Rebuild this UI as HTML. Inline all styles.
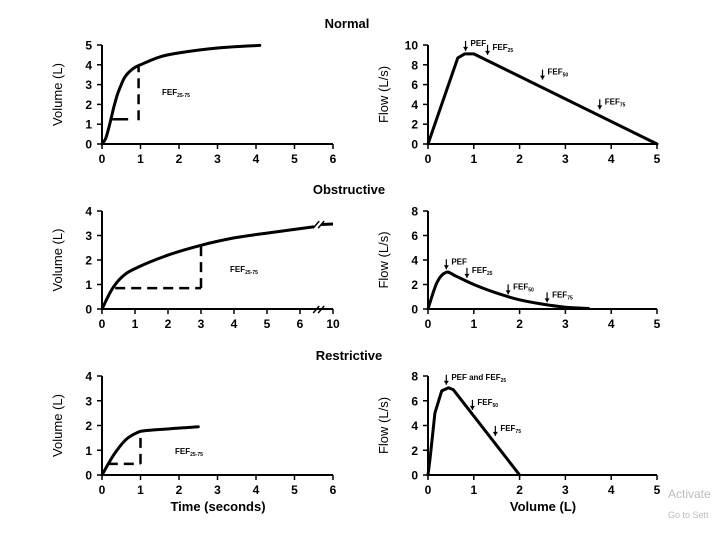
<!DOCTYPE html>
<html><head><meta charset="utf-8"><style>
body{margin:0;background:#fff}
svg{display:block;font-family:"Liberation Sans",Arial,sans-serif}
</style></head><body>
<svg id="fig" width="720" height="540" viewBox="0 0 720 540">
<text x="347" y="28" font-size="13" font-weight="bold" text-anchor="middle">Normal</text>
<text x="349" y="194" font-size="13" font-weight="bold" text-anchor="middle">Obstructive</text>
<text x="349" y="360" font-size="13" font-weight="bold" text-anchor="middle">Restrictive</text>
<text x="218" y="511" font-size="13" font-weight="bold" text-anchor="middle">Time (seconds)</text>
<text x="543" y="511" font-size="13" font-weight="bold" text-anchor="middle">Volume (L)</text>
<text x="668" y="498" font-size="12" fill="#bbb">Activate</text>
<text x="668" y="518" font-size="9" fill="#bbb">Go to Sett</text>
</svg>
<script>
const NS="http://www.w3.org/2000/svg";
const svg=document.getElementById('fig');
// data
const normVolT=[0,0.1,0.2,0.3,0.4,0.5,0.6,0.8,1.0,1.5,2,3,4.1];
const normVolV=[0,0.3,1.0,1.8,2.5,3.0,3.4,3.8,4.0,4.4,4.6,4.85,4.98];
const normFlowV=[0,0.65,0.8,1.0,5];
const normFlowF=[0,8.7,9.1,9.1,0];
const obsVolT=[0,0.3,0.6,1,2,3,4,5,6.4];
const obsVolV=[0,0.8,1.3,1.65,2.2,2.6,2.9,3.1,3.35];
const obsFlowV=[0,0.2,0.4,0.6,1,1.5,2,2.5,3,3.5];
const obsFlowF=[0,2.2,3.0,2.7,2.0,1.3,0.75,0.4,0.15,0.05];
const resVolT=[0,0.3,0.6,0.9,1.2,2.5];
const resVolV=[0,0.8,1.4,1.7,1.8,1.95];
const resFlowV=[0,0.05,0.15,0.3,0.45,0.55,2];
const resFlowF=[0,1.5,5,6.8,7.05,6.9,0];
const timeTicks=["0","1","2","3","4","5","6"];
const obsTimeTicks=["0","1","2","3","4","5","6","10"];
const volTicks5=["0","1","2","3","4","5"];
const volTicks4=["0","1","2","3","4"];
const flowTicks10=["0","2","4","6","8","10"];
const flowTicks8=["0","2","4","6","8"];
const volXTicks=["0","1","2","3","4","5"];

function mk(tag,at,name){const e=document.createElementNS(NS,tag);for(const k in at)e.setAttribute(k,at[k]);


svg.appendChild(e);return e;}
function txt(x,y,s,sz,name,anchor){const e=mk('text',{x:x,y:y,'font-size':sz,'font-weight':'bold','text-anchor':anchor||'start'},name);e.textContent=s;return e;}

function panel(o){
  const sx=v=>o.x0+(v-o.xmin)/(o.xmax-o.xmin)*(o.x1-o.x0);
  const sy=v=>o.y0-(v-o.ymin)/(o.ymax-o.ymin)*(o.y0-o.y1);
  mk('line',{x1:o.x0,y1:o.y0,x2:o.x1,y2:o.y0,stroke:'#000','stroke-width':2},o.id+'-x-axis');
  mk('line',{x1:o.x0,y1:o.y0,x2:o.x0,y2:o.y1,stroke:'#000','stroke-width':2},o.id+'-y-axis');
  const nx=o.xt.length;
  o.xt.forEach((t,i)=>{const x=o.x0+i*(o.x1-o.x0)/(nx-1);
    mk('line',{x1:x,y1:o.y0,x2:x,y2:o.y0+5,stroke:'#000','stroke-width':1.5},o.id+'-x-tick');
    txt(x,o.y0+19,t,12,o.id+'-x-tick-label','middle');});
  const ny=o.yt.length;
  o.yt.forEach((t,i)=>{const y=o.y0-i*(o.y0-o.y1)/(ny-1);
    mk('line',{x1:o.x0-5,y1:y,x2:o.x0,y2:y,stroke:'#000','stroke-width':1.5},o.id+'-y-tick');
    txt(o.x0-10,y+4.5,t,12,o.id+'-y-tick-label','end');});
  const yt=txt(0,0,o.ylab,13,o.id+'-y-axis-title','middle');
  yt.setAttribute('font-weight','normal');
  yt.setAttribute('transform','translate('+o.ylx+','+(o.y0+o.y1)/2+') rotate(-90)');
  return {sx,sy};
}
function curve(p,xs,ys,name,smooth){
  const P=xs.map((x,i)=>[p.sx(x),p.sy(ys[i])]);
  let d='M'+P[0][0].toFixed(1)+' '+P[0][1].toFixed(1);
  for(let i=0;i<P.length-1;i++){
    if(!smooth){d+='L'+P[i+1][0].toFixed(1)+' '+P[i+1][1].toFixed(1);continue;}
    const p0=P[Math.max(0,i-1)],p1=P[i],p2=P[i+1],p3=P[Math.min(P.length-1,i+2)];
    const c1=[p1[0]+(p2[0]-p0[0])/6,p1[1]+(p2[1]-p0[1])/6];
    const c2=[p2[0]-(p3[0]-p1[0])/6,p2[1]-(p3[1]-p1[1])/6];
    d+='C'+c1.map(v=>v.toFixed(1)).join(' ')+' '+c2.map(v=>v.toFixed(1)).join(' ')+' '+p2[0].toFixed(1)+' '+p2[1].toFixed(1);
  }
  return mk('path',{d:d,fill:'none',stroke:'#000','stroke-width':3,'stroke-linejoin':'round','stroke-linecap':'round'},name);
}
function dash(p,x1,y1,x2,y2,name){mk('line',{x1:p.sx(x1),y1:p.sy(y1),x2:p.sx(x2),y2:p.sy(y2),stroke:'#000','stroke-width':2.5,'stroke-dasharray':'10 6'},name);}
function fefLabel(x,y,main,sub,name){const e=txt(x,y,main,8,name);const s=document.createElementNS(NS,'tspan');s.setAttribute('font-size','5');s.setAttribute('dy','2');s.textContent=sub;e.appendChild(s);}
function arrow(p,v,f,gap,lab,sub,name){
  const x=p.sx(v),y=p.sy(f)-gap;
  mk('line',{x1:x,y1:y-10,x2:x,y2:y,stroke:'#000','stroke-width':1.2},name+'-arrow');
  mk('path',{d:`M${x-2.5} ${y-4}L${x} ${y}L${x+2.5} ${y-4}Z`,fill:'#000'},name+'-arrowhead');
  fefLabel(x+5,y-5,lab,sub,name+'-label');
}

// Normal volume-time
let p=panel({id:'normal-vt',x0:102,x1:333,xmin:0,xmax:6,y0:144,y1:45,ymin:0,ymax:5,xt:timeTicks,yt:volTicks5,ylab:'Volume (L)',ylx:62});
curve(p,normVolT,normVolV,'normal-volume-curve',true);
mk('line',{x1:p.sx(0.2),y1:p.sy(1.25),x2:p.sx(0.68),y2:p.sy(1.25),stroke:'#000','stroke-width':2.5},'normal-fef-horizontal');
dash(p,0.95,1.2,0.95,3.9,'normal-fef-vertical');
fefLabel(162,95,'FEF','25-75','normal-fef2575-label');

// Normal flow-volume
p=panel({id:'normal-fv',x0:428,x1:657,xmin:0,xmax:5,y0:144,y1:45,ymin:0,ymax:10,xt:volXTicks,yt:flowTicks10,ylab:'Flow (L/s)',ylx:388});
curve(p,normFlowV,normFlowF,'normal-flow-curve',false);
arrow(p,0.82,9.1,3,'PEF','','normal-pef');
arrow(p,1.3,8.8,2,'FEF','25','normal-fef25');
arrow(p,2.5,6.2,3,'FEF','50','normal-fef50');
arrow(p,3.75,3.2,3,'FEF','75','normal-fef75');

// Obstructive volume-time
p=panel({id:'obstructive-vt',x0:102,x1:333,xmin:0,xmax:7,y0:309,y1:211,ymin:0,ymax:4,xt:obsTimeTicks,yt:volTicks4,ylab:'Volume (L)',ylx:62});
curve(p,obsVolT,obsVolV,'obstructive-volume-curve',true);
mk('path',{d:`M${p.sx(6.65)} ${p.sy(3.45)}L${p.sx(7)} ${p.sy(3.47)}`,stroke:'#000','stroke-width':3,fill:'none'},'obstructive-curve-after-break');
mk('path',{d:`M${p.sx(6.4)} ${p.sy(3.3)}l6 -7 M${p.sx(6.55)} ${p.sy(3.3)}l6 -7`,stroke:'#000','stroke-width':1.5,fill:'none'},'curve-break-mark');
mk('path',{d:`M${p.sx(6.4)} 313l6 -7 M${p.sx(6.55)} 313l6 -7`,stroke:'#000','stroke-width':1.5,fill:'none'},'axis-break-mark');
dash(p,0.4,0.85,3,0.85,'obstructive-fef-horizontal');
dash(p,3,0.85,3,2.6,'obstructive-fef-vertical');
fefLabel(230,272,'FEF','25-75','obstructive-fef2575-label');

// Obstructive flow-volume
p=panel({id:'obstructive-fv',x0:428,x1:657,xmin:0,xmax:5,y0:309,y1:211,ymin:0,ymax:8,xt:volXTicks,yt:flowTicks8,ylab:'Flow (L/s)',ylx:388});
curve(p,obsFlowV,obsFlowF,'obstructive-flow-curve',true);
arrow(p,0.4,3.0,3,'PEF','','obstructive-pef');
arrow(p,0.85,2.3,3,'FEF','25','obstructive-fef25');
arrow(p,1.75,0.95,3,'FEF','50','obstructive-fef50');
arrow(p,2.6,0.3,3,'FEF','75','obstructive-fef75');

// Restrictive volume-time
p=panel({id:'restrictive-vt',x0:102,x1:333,xmin:0,xmax:6,y0:475,y1:376,ymin:0,ymax:4,xt:timeTicks,yt:volTicks4,ylab:'Volume (L)',ylx:62});
curve(p,resVolT,resVolV,'restrictive-volume-curve',true);
dash(p,0.15,0.45,1.0,0.45,'restrictive-fef-horizontal');
dash(p,1.0,0.45,1.0,1.75,'restrictive-fef-vertical');
fefLabel(175,454,'FEF','25-75','restrictive-fef2575-label');

// Restrictive flow-volume
p=panel({id:'restrictive-fv',x0:428,x1:657,xmin:0,xmax:5,y0:475,y1:376,ymin:0,ymax:8,xt:volXTicks,yt:flowTicks8,ylab:'Flow (L/s)',ylx:388});
curve(p,resFlowV,resFlowF,'restrictive-flow-curve',false);
arrow(p,0.4,7.05,3,'PEF and FEF','25','restrictive-pef-fef25');
arrow(p,0.97,5.1,2,'FEF','50','restrictive-fef50');
arrow(p,1.47,3.0,2,'FEF','75','restrictive-fef75');
</script>
</body></html>
